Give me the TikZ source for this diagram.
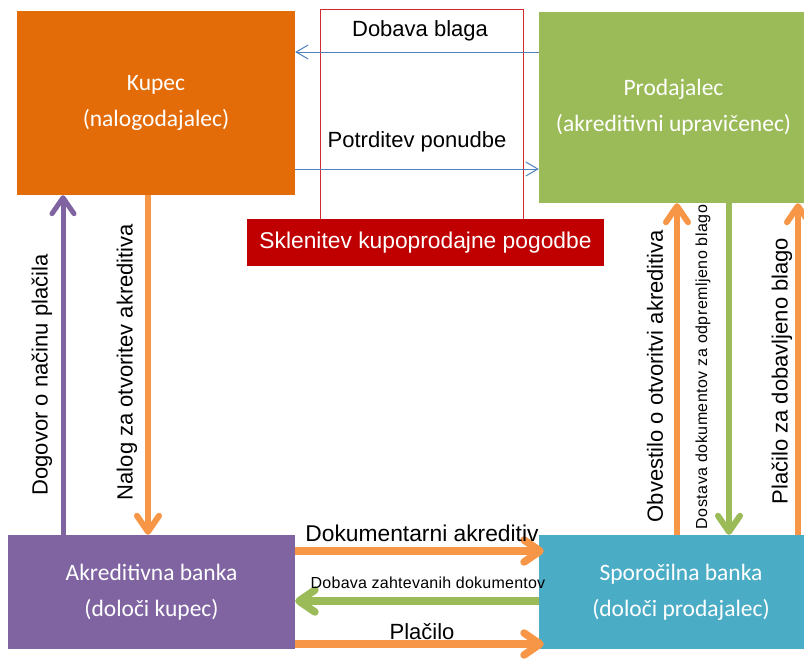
\documentclass[tikz,border=0pt]{standalone}
\usepackage{fontspec}
\setmainfont{Liberation Sans}
\newfontfamily\boxfont{Carlito}
\newfontfamily\spacedfont[LetterSpace=3]{Liberation Sans}
\newfontfamily\slightfont[LetterSpace=1.5]{Liberation Sans}
\usetikzlibrary{arrows.meta}
\definecolor{cKupec}{HTML}{E36C09}
\definecolor{cProd}{HTML}{9BBB59}
\definecolor{cAkb}{HTML}{8064A2}
\definecolor{cSpb}{HTML}{4BACC6}
\definecolor{cRed}{HTML}{C00000}
\definecolor{cFrame}{HTML}{D42A2F}
\definecolor{cOrange}{HTML}{F79646}
\definecolor{cBlue}{HTML}{4F81BD}
\tikzset{
  party/.style={draw=none, inner sep=0pt, align=center, text=white,
    font=\boxfont\fontsize{23.5}{36}\selectfont},
  lbl/.style={inner sep=0pt, font=\fontsize{22}{24}\selectfont},
  vlbl/.style={inner sep=0pt, rotate=90, font=\fontsize{22}{24}\selectfont},
  smalllbl/.style={inner sep=0pt, font=\slightfont\fontsize{16}{18}\selectfont},
  thinarrow/.style={draw=cBlue, line width=1pt, -{Straight Barb[length=12pt,width=14pt]}},
  fatarrow/.style={line width=6pt, -{Straight Barb[length=16pt,width=22pt,round]}},
  widearrow/.style={line width=7.5pt, -{Straight Barb[length=16pt,width=22pt,round]}},
}
\begin{document}
\begin{tikzpicture}[x=1pt,y=-1pt]
\useasboundingbox (0,0) rectangle (804,659);
\clip (0,0) rectangle (804,659);
% coordinates for arrow positions
\coordinate (yDob) at (0,52);
\coordinate (yPot) at (0,169);
\coordinate (yDok) at (0,551);
\coordinate (yZah) at (0,601);
\coordinate (yPla) at (0,644);
\coordinate (xDog) at (63,0);
\coordinate (xNal) at (148,0);
\coordinate (xObv) at (677,0);
\coordinate (xDos) at (729,0);
\coordinate (xPzd) at (798,0);

% contract frame
\node[draw=cFrame, line width=0.9pt, minimum width=203pt, minimum height=210pt, inner sep=0pt] (frame) at (421.5,114) {};

% boxes
\node[party, fill=cKupec, minimum width=278pt, minimum height=184pt] (kupec) at (156,103) {Kupec\\(nalogodajalec)};
\node[party, fill=cProd, minimum width=269pt, minimum height=191pt] (prod) at (673.5,107.5) {Prodajalec\\(akreditivni upravičenec)};
\node[party, fill=cAkb, minimum width=287pt, minimum height=114pt] (akb) at (151.5,592) {Akreditivna banka\\(določi kupec)};
\node[party, fill=cSpb, minimum width=284pt, minimum height=114pt] (spb) at (681,592) {Sporočilna banka\\(določi prodajalec)};
\node[fill=cRed, text=white, minimum width=357pt, minimum height=47pt, inner sep=0pt,
  font=\fontsize{22.8}{24}\selectfont] (skl) at (425.5,242.5) {Sklenitev kupoprodajne pogodbe};

% blue thin arrows
\draw[thinarrow] (prod.west |- yDob) -- (kupec.east |- yDob);
\draw[thinarrow] (kupec.east |- yPot) -- (prod.west |- yPot);
\node[lbl] (lDob) at (420,31) {Dobava blaga};
\node[lbl] (lPot) at (417,142) {Potrditev ponudbe};

% left vertical arrows
\draw[fatarrow, cAkb, line width=5pt] (akb.north -| xDog) -- (kupec.south -| xDog);
\draw[fatarrow, cOrange] (kupec.south -| xNal) -- (akb.north -| xNal);
\node[vlbl] (lDog) at (42,375) {Dogovor o načinu plačila};
\node[vlbl] (lNal) at (127,362) {Nalog za otvoritev akreditiva};

% right vertical arrows
\draw[fatarrow, cOrange] (spb.north -| xObv) -- (prod.south -| xObv);
\draw[fatarrow, cProd] (prod.south -| xDos) -- (spb.north -| xDos);
\draw[fatarrow, cOrange] (spb.north -| xPzd) -- (prod.south -| xPzd);
\node[vlbl] (lObv) at (655,376) {Obvestilo o otvoritvi akreditiva};
\node[inner sep=0pt, rotate=90, font=\spacedfont\fontsize{16}{18}\selectfont] (lDos) at (703,367) {Dostava dokumentov za odpremljeno blago};
\node[vlbl] (lPzd) at (782,371) {Plačilo za dobavljeno blago};

% bottom horizontal arrows
\draw[widearrow, cOrange, shorten >=-5pt] (akb.east |- yDok) -- (spb.west |- yDok);
\draw[widearrow, cProd] (spb.west |- yZah) -- (akb.east |- yZah);
\draw[widearrow, cOrange, shorten >=-5pt] (akb.east |- yPla) -- (spb.west |- yPla);
\node[lbl, font=\fontsize{22.8}{24}\selectfont] (lDok) at (422,533) {Dokumentarni akreditiv};
\node[smalllbl] (lZah) at (428,583) {Dobava zahtevanih dokumentov};
\node[lbl] (lPla) at (422,632) {Plačilo};
\end{tikzpicture}
\end{document}
